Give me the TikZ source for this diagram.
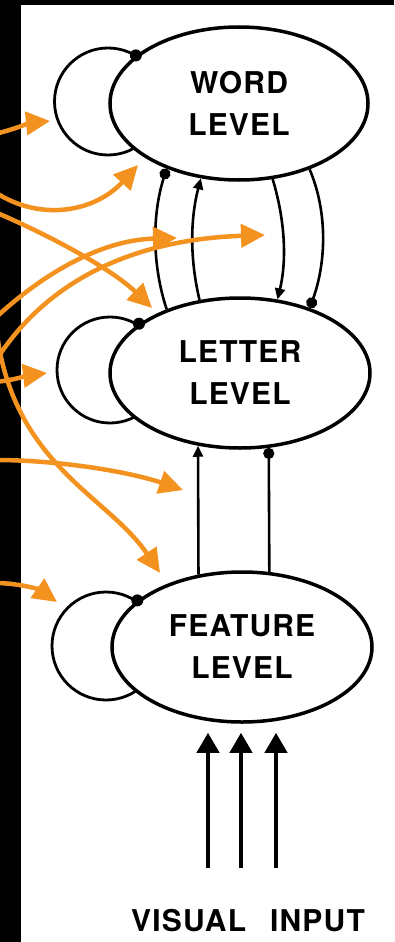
\documentclass[tikz,border=0pt]{standalone}
\usepackage{fontspec}
\setmainfont{TeX Gyre Heros}
\newfontfamily\labelfont[LetterSpace=4]{TeX Gyre Heros}
\usetikzlibrary{arrows.meta,shapes.geometric,calc}
\definecolor{org}{RGB}{243,146,30}
\begin{document}
\begin{tikzpicture}[x=1pt,y=-1pt,
  layer/.style={ellipse, draw, line width=3.5pt, fill=white, inner sep=0pt, align=center, font=\labelfont\bfseries\fontsize{30}{42}\selectfont},
  selfloop/.style={line width=2.8pt},
  link/.style={line width=2.6pt},
  excite/.style={-{Triangle[length=11pt,width=10pt]}},
  inhib/.style={-{Circle[length=11pt]}},
  pointer/.style={draw=org, line width=4.5pt, -{Triangle[length=24pt,width=23pt]}},
  bigarrow/.style={line width=4pt, -{Triangle[length=20pt,width=22pt]}},
  dot/.style={circle, fill=black, inner sep=0pt, minimum size=12pt}
]
\useasboundingbox (0,0) rectangle (394,942);
\fill[black] (0,0) rectangle (21,942);
\fill[black] (0,0) rectangle (394,5);

% self loops
\draw[selfloop] (108,101.5) circle[radius=53.5pt];
\draw[selfloop] (110,370) circle[radius=53pt];
\draw[selfloop] (106,646) circle[radius=54pt];

% levels
\node[layer, minimum width=258pt, minimum height=153pt] (word) at (239,103.5) {WORD\\LEVEL};
\node[layer, minimum width=260pt, minimum height=150pt] (letter) at (240,373) {LETTER\\LEVEL};
\node[layer, minimum width=260pt, minimum height=150pt] (feature) at (242,647) {FEATURE\\LEVEL};

\node[dot] (wd) at (word.155) {};
\node[dot] (ld) at (letter.154) {};
\node[dot] (fd) at (feature.156) {};

% word <-> letter
\draw[link, inhib] (letter.139) .. controls (152,265) and (152,215) .. (word.222);
\draw[link, excite] (letter.119) .. controls (190,260) and (190,220) .. (word.243);
\draw[link, excite] (word.-66) .. controls (285,220) and (287,260) .. (letter.63);
\draw[link, inhib] (word.-43) .. controls (327,210) and (327,260) .. (letter.43);

% feature -> letter
\draw[link, excite] (feature.121) -- (letter.240);
\draw[link, inhib] (feature.70) -- (letter.-69);

% visual input
\coordinate (v1) at (208,868);
\coordinate (v2) at (241,868);
\coordinate (v3) at (276,868);
\draw[bigarrow, shorten >=9pt] (v1) -- (v1 |- feature.south);
\draw[bigarrow, shorten >=9pt] (v2) -- (v2 |- feature.south);
\draw[bigarrow, shorten >=9pt] (v3) -- (v3 |- feature.south);
\node[font=\labelfont\bfseries\fontsize{30}{36}\selectfont, inner sep=0pt] (vis) at (248,921) {VISUAL\hspace{0.8em}INPUT};

% orange pointers
\coordinate (sA) at (-5,134);  \coordinate (tA) at (50,121);
\coordinate (sB) at (-5,192);  \coordinate (tB) at (138,165);
\coordinate (sC) at (-5,212);  \coordinate (tC) at (152,308);
\coordinate (sD) at (-10,323); \coordinate (tD) at (177,238);
\coordinate (sE) at (-5,362);  \coordinate (tE) at (265,235);
\coordinate (sF) at (-5,382);  \coordinate (tF) at (47,373);
\coordinate (sG) at (-6,290);  \coordinate (tG) at (160,573);
\coordinate (sH) at (-5,460);  \coordinate (tH) at (183,490);
\coordinate (sI) at (-5,583);  \coordinate (tI) at (57,602);
\draw[pointer] (sA) .. controls (15,129) and (30,123) .. (tA);
\draw[pointer] (sB) .. controls (40,222) and (95,212) .. (tB);
\draw[pointer] (sC) .. controls (60,240) and (115,272) .. (tC);
\draw[pointer] (sD) .. controls (40,275) and (100,240) .. (tD);
\draw[pointer] (sE) .. controls (40,290) and (120,240) .. (tE);
\draw[pointer] (sF) .. controls (15,380) and (30,375) .. (tF);
\draw[pointer] (sG) .. controls (-5,460) and (104,490) .. (tG);
\draw[pointer] (sH) .. controls (60,460) and (130,472) .. (tH);
\draw[pointer] (sI) .. controls (20,583) and (40,590) .. (tI);
\end{tikzpicture}
\end{document}
